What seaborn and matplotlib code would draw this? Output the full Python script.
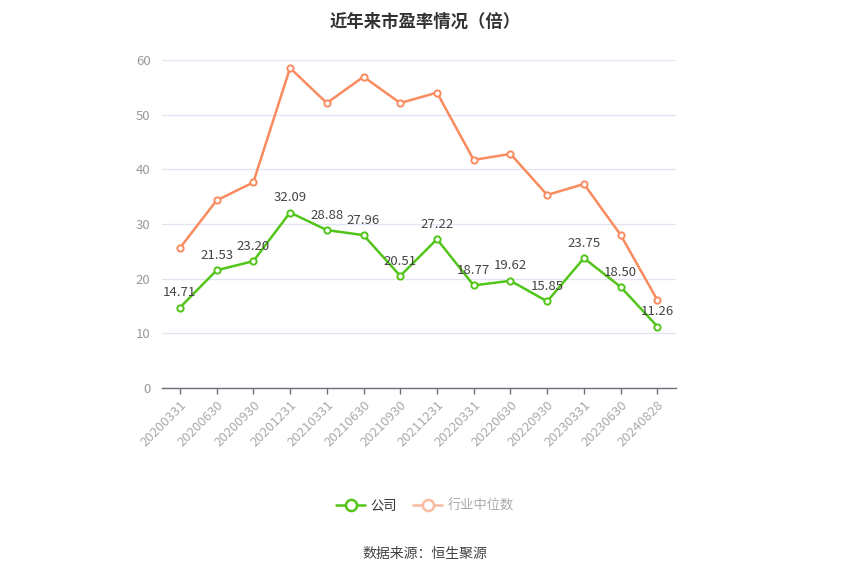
import numpy as np
import pandas as pd
import matplotlib
matplotlib.use("Agg")
import matplotlib.pyplot as plt
import seaborn as sns
from matplotlib.lines import Line2D

# =========================
# Data
# =========================
dates = ["20200331", "20200630", "20200930", "20201231", "20210331", "20210630",
         "20210930", "20211231", "20220331", "20220630", "20220930", "20230331",
         "20230630", "20240828"]
company_pe = [14.71, 21.53, 23.20, 32.09, 28.88, 27.96, 20.51, 27.22,
              18.77, 19.62, 15.85, 23.75, 18.50, 11.26]
industry_pe = [25.6, 34.3, 37.6, 58.5, 52.1, 56.9, 52.1, 54.0,
               41.7, 42.8, 35.3, 37.3, 28.0, 16.1]

GREEN = "#52c41a"
ORANGE = "#f98b5f"
ORANGE_LIGHT = "#fbbba3"

# =========================
# Setup
# =========================
sns.set_theme(style="white")
plt.rcParams["font.family"] = ["Noto Sans CJK SC", "DejaVu Sans"]

df = pd.DataFrame({"date": dates, "company": company_pe, "industry": industry_pe})

fig = plt.figure(figsize=(8.5, 5.75), dpi=100)
ax = fig.add_axes([0.19, 0.325, 0.605, 0.571])

sns.lineplot(data=df, x="date", y="industry", ax=ax, color=ORANGE, linewidth=1.8,
             marker="o", markersize=4.5, markerfacecolor="white",
             markeredgecolor=ORANGE, markeredgewidth=1.4, zorder=3)
sns.lineplot(data=df, x="date", y="company", ax=ax, color=GREEN, linewidth=1.8,
             marker="o", markersize=4.5, markerfacecolor="white",
             markeredgecolor=GREEN, markeredgewidth=1.4, zorder=4)

# value labels on company line
for i, v in enumerate(company_pe):
    ax.annotate(f"{v:.2f}", (i, v), xytext=(0, 6), textcoords="offset points",
                ha="center", va="bottom", fontsize=9.5, color="#444444", zorder=5)

# =========================
# Axes styling
# =========================
ax.set_xlim(-0.5, len(dates) - 0.5)
ax.set_ylim(0, 60)
ax.set_yticks(range(0, 61, 10))
ax.set_xlabel("")
ax.set_ylabel("")
ax.grid(axis="y", color="#e0e6f1", linewidth=0.9)
ax.grid(axis="x", visible=False)
for s in ["top", "right", "left"]:
    ax.spines[s].set_visible(False)
ax.spines["bottom"].set_color("#6e7079")
ax.spines["bottom"].set_linewidth(1)
ax.tick_params(axis="y", length=0, labelsize=9.5, labelcolor="#999999", pad=8)
ax.tick_params(axis="x", length=4, width=1, color="#6e7079", labelsize=9.5,
               labelcolor="#aaaaaa", bottom=True)
plt.setp(ax.get_xticklabels(), rotation=45, ha="right", rotation_mode="anchor")

# =========================
# Title, legend, source
# =========================
fig.text(0.5, 0.977, "近年来市盈率情况（倍）", ha="center", va="top",
         fontsize=12.5, fontweight="bold", color="#333333")

handles = [
    Line2D([0], [0], color=GREEN, linewidth=1.8, marker="o", markersize=8,
           markerfacecolor="white", markeredgecolor=GREEN, markeredgewidth=1.8),
    Line2D([0], [0], color=ORANGE_LIGHT, linewidth=1.8, marker="o", markersize=8,
           markerfacecolor="white", markeredgecolor=ORANGE_LIGHT, markeredgewidth=1.8),
]
leg = fig.legend(handles, ["公司", "行业中位数"], loc="center", bbox_to_anchor=(0.5, 0.12),
                 ncol=2, frameon=False, fontsize=9.5, handlelength=2.2,
                 columnspacing=1.2, handletextpad=0.4)
leg.get_texts()[0].set_color("#333333")
leg.get_texts()[1].set_color("#aaaaaa")

fig.text(0.5, 0.036, "数据来源：恒生聚源", ha="center", va="center",
         fontsize=10, color="#444444")

fig.savefig("out.png", dpi=100)
plt.close(fig)
